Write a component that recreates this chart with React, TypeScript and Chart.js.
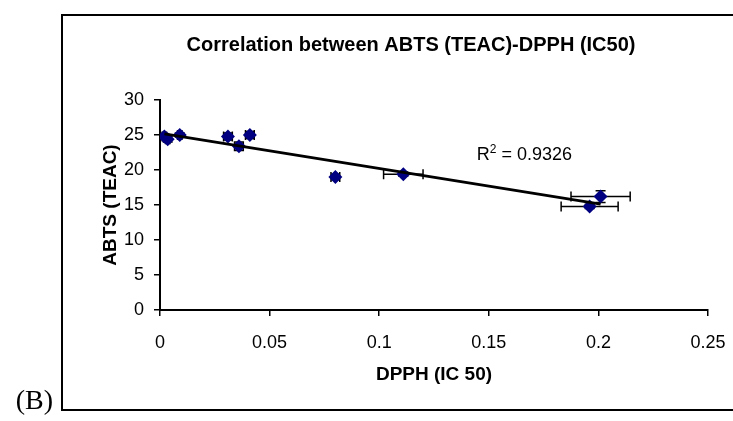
import React, { useEffect, useRef } from "react";
import { Chart, registerables } from "chart.js";

Chart.register(...registerables);

// ---- Text ----
const titleText = "Correlation between ABTS (TEAC)-DPPH (IC50)";
const xAxisTitle = "DPPH (IC 50)";
const yAxisTitle = "ABTS (TEAC)";
const panelLabel = "(B)";
const rSquaredValue = "0.9326";

// ---- Data ----
const dpph = [0.002, 0.0035, 0.009, 0.031, 0.036, 0.041, 0.08, 0.111, 0.196, 0.201];
const abts = [24.8, 24.4, 25.0, 24.8, 23.4, 25.0, 19.0, 19.4, 14.8, 16.2];
const dpphErr = [0.001, 0.001, 0.001, 0.002, 0.002, 0.002, 0.002, 0.009, 0.013, 0.0135];
const abtsErr = [0.3, 0.4, 0.3, 0.5, 0.6, 0.5, 0.4, 0.3, 0.3, 0.85];

// ---- Ticks ----
const xTicks = [0, 0.05, 0.1, 0.15, 0.2, 0.25];
const yTicks = [0, 5, 10, 15, 20, 25, 30];

const FONT = "'Liberation Sans', Arial, sans-serif";
const PAD_L = 90;

function linearFit(xs: number[], ys: number[]) {
  const n = xs.length;
  const mx = xs.reduce((a, b) => a + b, 0) / n;
  const my = ys.reduce((a, b) => a + b, 0) / n;
  let sxy = 0;
  let sxx = 0;
  for (let i = 0; i < n; i++) {
    sxy += (xs[i] - mx) * (ys[i] - my);
    sxx += (xs[i] - mx) * (xs[i] - mx);
  }
  const slope = sxy / sxx;
  return { slope, intercept: my - slope * mx };
}

const fmt = (v: number) => String(+Number(v).toFixed(3));

const decorPlugin = {
  id: "decor",
  beforeDraw(chart: any) {
    const ctx = chart.ctx;
    ctx.save();
    ctx.fillStyle = "#fff";
    ctx.fillRect(0, 0, chart.width, chart.height);
    // frame
    ctx.strokeStyle = "#000";
    ctx.lineWidth = 2;
    ctx.strokeRect(62, 15, 700, 395);
    // title
    ctx.fillStyle = "#000";
    ctx.font = `bold 20px ${FONT}`;
    ctx.textAlign = "center";
    ctx.textBaseline = "middle";
    ctx.fillText(titleText, 411, 45);
    // panel label
    ctx.font = `28px 'Liberation Serif', 'Times New Roman', serif`;
    ctx.textAlign = "right";
    ctx.fillText(panelLabel, 53, 402);
    ctx.restore();
  },
  beforeDatasetsDraw(chart: any) {
    const ctx = chart.ctx;
    const xs = chart.scales.x;
    const ys = chart.scales.y;
    const cap = 5;
    ctx.save();
    ctx.strokeStyle = "#000";
    ctx.lineWidth = 1.5;
    for (let i = 0; i < dpph.length; i++) {
      const px = xs.getPixelForValue(dpph[i]);
      const py = ys.getPixelForValue(abts[i]);
      const xl = xs.getPixelForValue(dpph[i] - dpphErr[i]);
      const xr = xs.getPixelForValue(dpph[i] + dpphErr[i]);
      const yt = ys.getPixelForValue(abts[i] + abtsErr[i]);
      const yb = ys.getPixelForValue(abts[i] - abtsErr[i]);
      ctx.beginPath();
      ctx.moveTo(xl, py);
      ctx.lineTo(xr, py);
      ctx.moveTo(xl, py - cap);
      ctx.lineTo(xl, py + cap);
      ctx.moveTo(xr, py - cap);
      ctx.lineTo(xr, py + cap);
      ctx.moveTo(px, yt);
      ctx.lineTo(px, yb);
      ctx.moveTo(px - cap, yt);
      ctx.lineTo(px + cap, yt);
      ctx.moveTo(px - cap, yb);
      ctx.lineTo(px + cap, yb);
      ctx.stroke();
    }
    ctx.restore();
  },
  afterDatasetsDraw(chart: any) {
    const ctx = chart.ctx;
    const xs = chart.scales.x;
    const ys = chart.scales.y;
    const x0 = xs.getPixelForValue(0.1445);
    const y0 = ys.getPixelForValue(22.1);
    ctx.save();
    ctx.fillStyle = "#000";
    ctx.textBaseline = "middle";
    ctx.textAlign = "left";
    ctx.font = `18px ${FONT}`;
    ctx.fillText("R", x0, y0);
    let w = ctx.measureText("R").width;
    ctx.font = `12px ${FONT}`;
    ctx.fillText("2", x0 + w, y0 - 6);
    w += ctx.measureText("2").width;
    ctx.font = `18px ${FONT}`;
    ctx.fillText(" = " + rSquaredValue, x0 + w, y0);
    ctx.restore();
  },
};

export default function App() {
  const ref = useRef<HTMLCanvasElement | null>(null);

  useEffect(() => {
    if (!ref.current) return;
    const fit = linearFit(dpph, abts);
    const xmin = Math.min(...dpph);
    const xmax = Math.max(...dpph);
    const trend = [
      { x: xmin, y: fit.intercept + fit.slope * xmin },
      { x: xmax, y: fit.intercept + fit.slope * xmax },
    ];
    const points = dpph.map((x, i) => ({ x, y: abts[i] }));

    const chart = new Chart(ref.current, {
      type: "scatter",
      data: {
        datasets: [
          {
            type: "line",
            data: trend,
            borderColor: "#000",
            borderWidth: 3,
            pointRadius: 0,
            fill: false,
            order: 0,
          } as any,
          {
            data: points,
            pointStyle: "rectRot",
            pointRadius: 7,
            pointHoverRadius: 7,
            backgroundColor: "#000080",
            borderColor: "#000080",
            borderWidth: 0,
            showLine: false,
            order: 1,
          } as any,
        ],
      },
      options: {
        animation: false,
        responsive: false,
        devicePixelRatio: 1,
        layout: { padding: { left: PAD_L, right: 25, top: 100, bottom: 20 } },
        plugins: {
          legend: { display: false },
          tooltip: { enabled: false },
        },
        scales: {
          x: {
            type: "linear",
            position: "bottom",
            min: 0,
            max: 0.25,
            border: { display: true, color: "#000", width: 2 },
            grid: { drawOnChartArea: false, drawTicks: true, tickLength: 6, color: "#000", lineWidth: 1.5 },
            ticks: {
              color: "#000",
              font: { family: FONT, size: 18 },
              padding: 16,
              maxRotation: 0,
              callback: (v: any) => fmt(v),
            },
            title: {
              display: true,
              text: xAxisTitle,
              color: "#000",
              font: { family: FONT, size: 19, weight: "bold" },
              padding: { top: 0, bottom: 15 },
            },
            afterBuildTicks: (s: any) => {
              s.ticks = xTicks.map((v) => ({ value: v }));
            },
            afterFit: (s: any) => {
              s.height = 91;
              s.paddingLeft = 0;
              s.paddingRight = 0;
            },
          },
          y: {
            type: "linear",
            position: "left",
            min: 0,
            max: 30,
            border: { display: true, color: "#000", width: 2 },
            grid: { drawOnChartArea: false, drawTicks: true, tickLength: 6, color: "#000", lineWidth: 1.5 },
            ticks: {
              color: "#000",
              font: { family: FONT, size: 18 },
              padding: 10,
              callback: (v: any) => fmt(v),
            },
            title: {
              display: true,
              text: yAxisTitle,
              color: "#000",
              font: { family: FONT, size: 19, weight: "bold" },
              padding: { top: 9, bottom: 0 },
            },
            afterBuildTicks: (s: any) => {
              s.ticks = yTicks.map((v) => ({ value: v }));
            },
            afterFit: (s: any) => {
              s.width = 160 - PAD_L;
              s.paddingTop = 0;
              s.paddingBottom = 0;
            },
          },
        },
      } as any,
      plugins: [decorPlugin],
    });
    return () => chart.destroy();
  }, []);

  return (
    <div style={{ position: "absolute", left: 0, top: 0, width: 733, height: 421, background: "#fff" }}>
      <canvas ref={ref} width={733} height={421} style={{ width: 733, height: 421, display: "block" }} />
    </div>
  );
}
